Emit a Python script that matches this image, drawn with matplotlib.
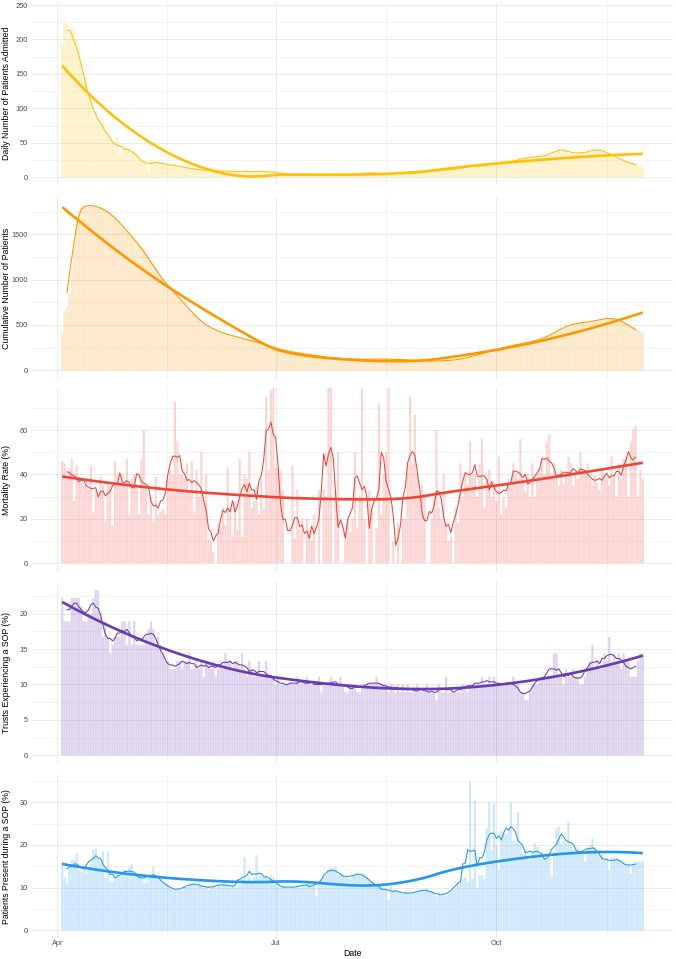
import matplotlib
matplotlib.use("Agg")
import matplotlib.pyplot as plt
import matplotlib.dates as mdates
import numpy as np
import pandas as pd

plt.rcParams["font.family"] = ["Liberation Sans", "DejaVu Sans"]

dates = pd.date_range("2020-04-03", "2020-12-01", freq="D")

admitted = [
    195, 226, 222, 205, 218, 210, 200, 185, 165, 150, 146, 125, 118,
    86, 95, 85, 78, 88, 70, 61, 55, 50, 48, 59, 34, 45, 42,
    44, 40, 38, 37, 35, 30, 26, 24, 20, 9, 26, 22, 21, 23,
    22, 20, 19, 18, 20, 17, 18, 16, 17, 15, 14, 16, 13, 12,
    13, 12, 11, 12, 10, 11, 9, 10, 11, 8, 10, 9, 10, 9,
    8, 9, 10, 8, 9, 7, 9, 8, 10, 8, 7, 9, 8, 8,
    9, 7, 8, 12, 7, 8, 6, 6, 7, 5, 6, 5, 5, 4,
    5, 4, 4, 3, 4, 3, 3, 3, 4, 3, 3, 2, 3, 3,
    3, 4, 3, 4, 3, 4, 4, 4, 3, 4, 5, 4, 4, 5,
    5, 6, 5, 8, 7, 7, 6, 5, 6, 5, 5, 6, 5, 5,
    5, 4, 5, 12, 4, 5, 5, 5, 6, 6, 6, 7, 8, 7,
    8, 8, 9, 9, 10, 10, 10, 11, 10, 12, 11, 12, 13, 12,
    14, 13, 15, 16, 14, 20, 15, 17, 13, 18, 17, 19, 18, 20,
    19, 21, 20, 22, 26, 20, 22, 23, 24, 22, 30, 24, 28, 30,
    27, 29, 31, 30, 28, 31, 32, 31, 33, 32, 35, 38, 45, 36,
    42, 40, 38, 36, 35, 34, 36, 35, 37, 34, 36, 38, 37, 39,
    44, 40, 38, 40, 36, 35, 34, 32, 30, 28, 27, 25, 24, 22,
    21, 20, 18, 17, 20, 13,
]

cumulative = [
    433, 654, 700, 850, 1100, 1400, 1650, 1760, 1795, 1808, 1815, 1820, 1822,
    1820, 1815, 1808, 1798, 1785, 1772, 1757, 1738, 1718, 1695, 1670, 1642, 1612, 1582,
    1552, 1522, 1492, 1462, 1430, 1398, 1365, 1330, 1292, 1252, 1212, 1172, 1132, 1092,
    1052, 1015, 980, 948, 918, 890, 864, 835, 805, 775, 745, 715, 685, 655,
    627, 600, 575, 552, 530, 510, 492, 476, 462, 450, 438, 427, 417, 408,
    400, 392, 385, 378, 371, 364, 357, 350, 343, 336, 329, 322, 314, 306,
    298, 290, 282, 274, 266, 258, 250, 242, 235, 228, 221, 215, 210, 205,
    200, 196, 192, 188, 184, 180, 176, 172, 168, 164, 160, 156, 152, 149,
    146, 143, 140, 138, 136, 134, 132, 130, 128, 127, 126, 125, 124, 123,
    122, 121, 121, 121, 122, 123, 124, 124, 125, 125, 125, 124, 123, 122,
    121, 120, 119, 118, 117, 116, 115, 113, 111, 109, 107, 105, 104, 103,
    102, 102, 102, 103, 104, 105, 105, 106, 107, 109, 111, 114, 118, 122,
    127, 132, 138, 145, 152, 160, 166, 173, 180, 188, 196, 204, 212, 220,
    227, 234, 241, 248, 255, 262, 269, 274, 279, 284, 289, 294, 299, 304,
    309, 315, 321, 328, 336, 345, 355, 366, 378, 391, 405, 420, 435, 450,
    465, 478, 490, 500, 508, 514, 518, 521, 524, 527, 530, 534, 538, 543,
    548, 554, 560, 566, 572, 575, 576, 574, 568, 560, 550, 538, 524, 508,
    490, 470, 450, 445, 420, 410,
]

mortality = [
    46, 45, 38, 43, 47, 28, 44, 39, 36,
    35, 38, 33, 44, 23, 33, 30, 39, 35, 19,
    37, 35, 17, 46, 40, 35, 40, 36, 47, 22,
    38, 40, 35, 22, 47, 60, 35, 22, 30, 19,
    39, 22, 23, 24, 22, 38, 42, 40, 73, 55,
    40, 40, 38, 45, 32, 46, 23, 42, 30, 50,
    27, 40, 11, 10, 5, 0, 18, 16, 25, 17,
    43, 24, 12, 28, 15, 47, 12, 40, 38, 50,
    25, 28, 35, 22, 38, 25, 75, 42, 78, 100,
    43, 43, 42, 33, 0, 0, 0, 44, 11, 33,
    15, 20, 0, 20, 15, 10, 22, 0, 33, 0,
    33, 30, 100, 100, 0, 33, 50, 0, 0, 14,
    20, 14, 20, 50, 16, 30, 100, 20, 0, 33,
    25, 0, 16, 72, 22, 40, 50, 100, 0, 10,
    0, 18, 0, 20, 20, 45, 75, 45, 67, 40,
    30, 35, 30, 0, 0, 20, 30, 60, 25, 20,
    40, 18, 10, 12, 0, 25, 18, 45, 30, 40,
    35, 55, 40, 40, 30, 45, 56, 25, 38, 42,
    30, 35, 28, 48, 22, 30, 25, 38, 35, 45,
    40, 35, 56, 38, 32, 40, 30, 45, 30, 40,
    42, 48, 40, 55, 58, 38, 45, 40, 35, 42,
    36, 40, 48, 45, 35, 40, 38, 50, 42, 40,
    45, 38, 35, 40, 36, 33, 42, 40, 38, 35,
    48, 40, 30, 45, 38, 47, 48, 30, 55, 60,
    62, 30, 42, 38,
]

trusts_sop = [
    22.2, 18.9, 18.9, 18.9, 22.2, 22.2, 22.2, 22.2, 21.1,
    18.9, 18.9, 20.0, 20.0, 22.2, 23.3, 23.3, 20.0, 16.7, 18.9,
    16.7, 14.4, 15.6, 16.7, 16.7, 16.7, 18.9, 18.9, 15.6, 18.9,
    15.6, 18.9, 15.6, 15.6, 15.6, 15.6, 16.7, 17.8, 18.9, 17.8,
    15.6, 16.7, 15.6, 14.4, 13.3, 13.3, 12.2, 12.2, 12.2, 13.3,
    13.3, 12.2, 13.3, 13.3, 14.4, 12.2, 12.2, 13.3, 12.2, 13.3,
    11.1, 13.3, 13.3, 12.2, 13.3, 11.1, 12.2, 13.3, 12.2, 14.4,
    13.3, 13.3, 12.2, 13.3, 13.3, 12.2, 14.4, 12.2, 11.1, 13.3,
    12.2, 11.1, 11.1, 13.3, 11.1, 11.1, 13.3, 11.1, 11.1, 11.1,
    10.0, 11.1, 10.0, 10.0, 10.0, 10.0, 10.0, 10.0, 10.0, 11.1,
    10.0, 10.0, 10.0, 11.1, 10.0, 10.0, 10.0, 10.0, 11.1, 8.9,
    10.0, 10.0, 10.0, 11.1, 10.0, 10.0, 10.0, 11.1, 10.0, 8.9,
    8.9, 10.0, 10.0, 10.0, 8.9, 8.9, 10.0, 10.0, 10.0, 10.0,
    10.0, 10.0, 11.1, 10.0, 10.0, 10.0, 10.0, 8.9, 10.0, 10.0,
    8.9, 10.0, 8.9, 10.0, 8.9, 10.0, 8.9, 8.9, 8.9, 10.0,
    8.9, 8.9, 8.9, 10.0, 8.9, 8.9, 8.9, 7.8, 10.0, 8.9,
    8.9, 11.1, 8.9, 8.9, 8.9, 8.9, 8.9, 8.9, 10.0, 10.0,
    8.9, 10.0, 10.0, 10.0, 10.0, 10.0, 11.1, 10.0, 10.0, 11.1,
    10.0, 11.1, 10.0, 10.0, 10.0, 10.0, 10.0, 10.0, 10.0, 11.1,
    10.0, 10.0, 8.9, 8.9, 7.8, 7.8, 8.9, 10.0, 10.0, 10.0,
    11.1, 11.1, 11.1, 11.1, 11.1, 11.1, 14.4, 14.4, 11.1, 11.1,
    10.0, 12.2, 11.1, 11.1, 12.2, 11.1, 11.1, 10.0, 10.0, 11.1,
    12.2, 13.3, 15.6, 12.2, 13.3, 12.2, 12.2, 14.4, 13.3, 16.7,
    13.3, 14.4, 13.3, 14.4, 12.2, 14.4, 13.3, 13.3, 11.1, 11.1,
    11.1, 13.3, 14.4, 14.4,
]

patients_sop = [
    16.1, 12.4, 11.0, 14.5, 16.5, 16.3, 18.0, 14.1, 13.8,
    14.5, 13.5, 15.0, 15.5, 19.0, 19.2, 16.5, 16.0, 18.6, 12.2,
    18.4, 11.4, 11.5, 12.0, 13.0, 12.5, 13.0, 14.0, 13.0, 14.9,
    15.5, 12.5, 13.5, 13.0, 12.5, 11.0, 11.5, 12.5, 13.0, 14.9,
    13.0, 12.5, 12.0, 11.5, 11.0, 10.5, 10.0, 10.0, 9.5, 9.5,
    9.5, 9.2, 10.4, 10.0, 11.0, 10.5, 11.4, 10.3, 11.2, 10.6,
    10.0, 10.4, 9.5, 10.0, 10.5, 9.8, 11.0, 10.3, 10.8, 11.2,
    10.5, 10.0, 10.6, 10.2, 10.0, 10.5, 12.0, 17.2, 11.5, 12.8,
    11.5, 12.4, 17.6, 12.5, 12.5, 12.5, 12.8, 12.0, 13.0, 12.5,
    11.0, 10.2, 10.0, 10.5, 10.3, 10.0, 9.8, 10.2, 10.0, 10.5,
    10.0, 10.6, 10.3, 10.8, 11.2, 10.5, 10.6, 8.0, 11.5, 12.0,
    12.5, 13.0, 14.0, 14.7, 14.5, 14.9, 13.0, 13.2, 13.0, 12.5,
    12.5, 12.0, 12.8, 13.0, 13.5, 13.0, 13.5, 13.2, 12.5, 12.0,
    11.5, 11.0, 10.5, 10.0, 10.3, 9.8, 10.0, 7.1, 10.5, 9.5,
    9.5, 9.0, 9.0, 8.5, 9.0, 8.8, 8.5, 8.8, 8.5, 9.0,
    9.2, 9.5, 9.5, 9.8, 9.0, 9.3, 9.0, 7.9, 9.0, 8.0,
    8.5, 8.0, 8.5, 9.0, 9.5, 10.0, 11.0, 11.5, 12.0, 12.5,
    11.5, 34.8, 12.0, 30.5, 9.8, 12.9, 12.9, 12.0, 23.9, 30.1,
    18.8, 29.7, 20.0, 14.1, 23.5, 23.0, 22.5, 23.9, 29.9, 21.0,
    20.5, 27.8, 20.0, 18.0, 19.0, 17.5, 16.5, 18.5, 20.4, 19.5,
    17.2, 18.5, 17.0, 16.5, 18.0, 12.6, 18.5, 23.9, 24.3, 20.4,
    21.0, 20.5, 25.4, 20.0, 18.8, 19.0, 19.5, 18.5, 18.0, 16.1,
    19.5, 20.0, 21.5, 19.6, 18.0, 17.5, 17.8, 16.5, 17.0, 14.1,
    17.2, 17.0, 16.5, 16.8, 16.5, 16.0, 15.5, 15.5, 13.3, 15.5,
    16.0, 16.1, 16.1, 16.1,
]

series = [admitted, cumulative, mortality, trusts_sop, patients_sop]
ylabels = [
    "Daily Number of Patients Admitted",
    "Cumulative Number of Patients",
    "Mortality Rate (%)",
    "Trusts Experiencing a SOP (%)",
    "Patients Present during a SOP (%)",
]
colors = ["#FFC107", "#FF9800", "#F44336", "#673AB7", "#2196F3"]
yticks = [
    [0, 50, 100, 150, 200, 250],
    [0, 500, 1000, 1500],
    [0, 20, 40, 60],
    [0, 5, 10, 15, 20],
    [0, 10, 20, 30],
]
xtick_dates = ["2020-04-01", "2020-07-01", "2020-10-01", "2021-01-01"]
xtick_labels = ["Apr", "Jul", "Oct", ""]

# panel placement in pixels (top, bottom) and y limits
W, H = 676, 959
LEFT, RIGHT = 32, 673
panels = [
    (3.3, 184.0, (-9.7, 252.5)),
    (196.7, 380.0, (-107, 1915)),
    (387.5, 572.0, (-4.0, 79.2)),
    (581.7, 762.7, (-1.04, 24.5)),
    (775.0, 937.7, (-1.73, 36.4)),
]


def loess(x, y, span=0.75, n_out=80):
    # local quadratic fit with tricube weights, like R's loess default
    xs = np.linspace(x.min(), x.max(), n_out)
    q = int(np.floor(span * len(x)))
    out = []
    for x0 in xs:
        d = np.abs(x - x0)
        h = np.sort(d)[q - 1]
        w = np.clip(1 - (d / h) ** 3, 0, None) ** 3
        X = np.vstack([np.ones_like(x), x - x0, (x - x0) ** 2]).T
        sw = np.sqrt(w)
        beta = np.linalg.lstsq(X * sw[:, None], y * sw, rcond=None)[0]
        out.append(beta[0])
    return xs, np.array(out)


def main():
    fig = plt.figure(figsize=(W / 100, H / 100), dpi=100)
    x = mdates.date2num(dates)
    span = x[-1] - x[0] + 0.9
    xlim = (x[0] - 0.45 - 0.05 * span, x[-1] + 0.45 + 0.05 * span)
    xmaj = mdates.date2num(pd.to_datetime(xtick_dates))
    xmin = (xmaj[:-1] + xmaj[1:]) / 2

    for k, (vals, label, color, ticks, (top, bot, ylim)) in enumerate(
            zip(series, ylabels, colors, yticks, panels)):
        ax = fig.add_axes([LEFT / W, 1 - bot / H, (RIGHT - LEFT) / W, (bot - top) / H])
        y = np.array(vals, dtype=float)

        ax.bar(x, y, width=0.9, color=color, alpha=0.22, linewidth=0,
               zorder=2, snap=False)
        # 6-day rolling mean, window two days back and three ahead
        roll = pd.Series(y).rolling(6).mean().shift(-3)
        ax.plot(x, roll, color=color, lw=0.75, zorder=3)
        xs, ys = loess(x, y)
        ax.plot(xs, ys, color=color, lw=1.9, zorder=4, solid_capstyle="butt")

        ax.set_xticks(xmaj)
        ax.set_xticks(xmin, minor=True)
        step = ticks[1] - ticks[0]
        ymin = [t + step / 2 for t in ticks]
        ymin = [t for t in ymin if t < ylim[1]]
        ax.set_yticks(ticks)
        ax.set_yticklabels([str(t) for t in ticks])
        ax.set_yticks(ymin, minor=True)
        # limits after the ticks, so ticks outside the range do not widen them
        ax.set_xlim(*xlim)
        ax.set_ylim(*ylim)

        ax.grid(True, which="major", color="#EBEBEB", lw=0.7, zorder=0)
        ax.grid(True, which="minor", color="#EFEFEF", lw=0.45, zorder=0)
        ax.set_axisbelow(True)
        for s in ax.spines.values():
            s.set_visible(False)
        ax.tick_params(which="both", length=0)
        ax.tick_params(axis="y", labelsize=5.3, labelcolor="#4D4D4D", pad=2.9)

        ax.set_ylabel(label, fontsize=6.3, va="center")
        ax.yaxis.set_label_coords(-(LEFT - 6.5) / (RIGHT - LEFT), 0.5)

        if k == len(series) - 1:
            ax.set_xticklabels(xtick_labels)
            ax.tick_params(axis="x", labelsize=5.3, labelcolor="#4D4D4D", pad=2.0)
            ax.set_xlabel("Date", fontsize=6.3, va="center")
            ax.xaxis.set_label_coords(0.5, -(953 - bot) / (bot - top))
        else:
            ax.set_xticklabels([])

    fig.savefig("out.png", dpi=100)


if __name__ == "__main__":
    main()
